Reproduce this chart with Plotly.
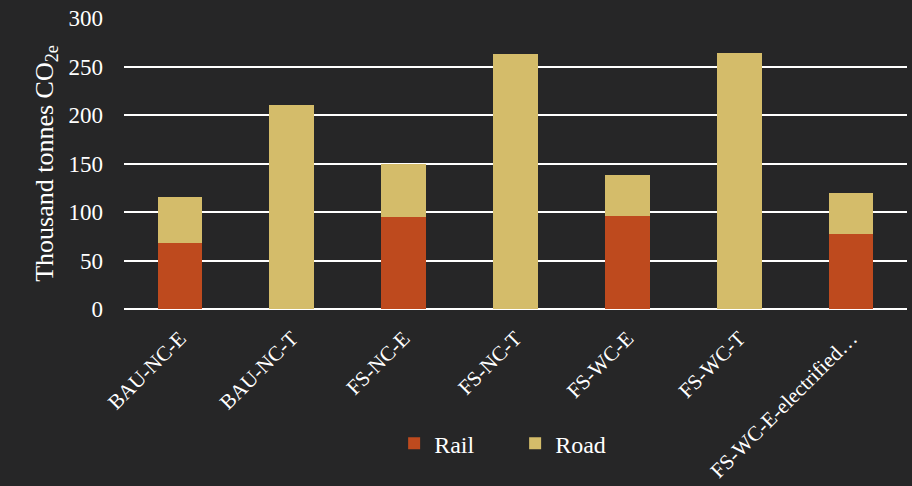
import plotly.graph_objects as go

categories = ["BAU-NC-E", "BAU-NC-T", "FS-NC-E", "FS-NC-T", "FS-WC-E", "FS-WC-T", "FS-WC-E-electrified…"]
rail = [68, 0, 95, 0, 96, 0, 77]
road = [47, 210, 54, 263, 42, 264, 43]
y_ticks = [0, 50, 100, 150, 200, 250, 300]

FONT = "Liberation Serif"
BG = "#262627"

fig = go.Figure()
fig.add_trace(go.Bar(name="Rail", x=categories, y=rail, marker=dict(color="#BE4A1E", line=dict(width=0))))
fig.add_trace(go.Bar(name="Road", x=categories, y=road, marker=dict(color="#D4BC6A", line=dict(width=0))))

fig.update_layout(
    barmode="stack",
    bargap=0.6,
    width=912, height=486,
    margin=dict(l=124, r=5, t=18, b=177, autoexpand=False),
    paper_bgcolor=BG, plot_bgcolor=BG,
    font=dict(family=FONT, color="white", size=20),
    legend=dict(orientation="h", x=0.345, xanchor="left", y=-0.463, yanchor="middle",
                traceorder="normal",
                font=dict(size=24, color="white"), entrywidth=76, bgcolor="rgba(0,0,0,0)"),
    xaxis=dict(tickangle=-45, tickfont=dict(size=21, color="white"), showgrid=False,
               showline=False, ticks="", ticklabelstandoff=12, automargin=False),
    yaxis=dict(range=[0, 300], tickvals=y_ticks, showgrid=True, gridcolor="white", gridwidth=2,
               zeroline=True, zerolinecolor="white", zerolinewidth=2, ticks="",
               tickfont=dict(size=23, color="white"), ticklabelstandoff=20, automargin=False,
               title=dict(text="Thousand tonnes CO<sub>2e</sub>", font=dict(size=26, color="white"), standoff=7)),
)

fig.write_html("out.html", config={"displayModeBar": False},
               post_script="document.body.style.margin='0';")
